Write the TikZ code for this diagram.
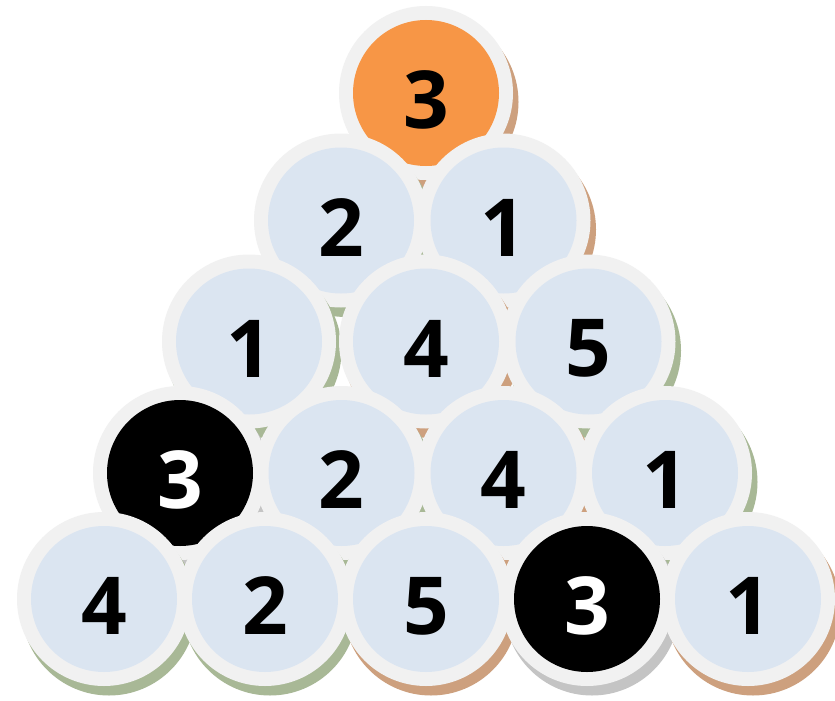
\documentclass[tikz,border=0pt]{standalone}
\usepackage{fontspec}
\newfontfamily\digitfont{Open Sans}
\definecolor{ringgray}{HTML}{F1F1F1}
\definecolor{coreblue}{HTML}{DBE5F1}
\definecolor{coreorange}{HTML}{F79646}
\definecolor{shtan}{RGB}{205,160,126}
\definecolor{sholive}{RGB}{168,184,150}
\definecolor{shgray}{RGB}{196,196,196}
\tikzset{
  shadowball/.style={circle, inner sep=0pt, outer sep=0pt, minimum size=175pt, draw=none},
  ringball/.style={circle, inner sep=0pt, outer sep=0pt, minimum size=174pt, fill=ringgray, draw=none},
  coreball/.style={circle, inner sep=0pt, outer sep=0pt, minimum size=146pt, draw=none},
  digitlabel/.style={inner sep=0pt, font=\digitfont\bfseries\fontsize{80}{80}\selectfont}
}
% name, x, y, core fill, shadow colour, text colour, digit
\newcommand\ball[7]{%
  \node[shadowball, fill=#5] (#1s) at (#2+5,#3+9) {};
  \node[ringball] (#1) at (#2,#3) {};
  \node[coreball, fill=#4] (#1c) at (#2,#3) {};
  \node[digitlabel, text=#6] (#1t) at (#2,#3+7) {#7};
}
\begin{document}
\begin{tikzpicture}[x=1pt,y=-1pt]
\useasboundingbox (0,0) rectangle (835,701);
\fill[white] (0,0) rectangle (835,701);
% row 1
\ball{b11}{426}{93}{coreorange}{shtan}{black}{3}
% row 2
\ball{b21}{341}{220.5}{coreblue}{sholive}{black}{2}
\ball{b22}{503.5}{220.5}{coreblue}{shtan}{black}{1}
% row 3
\ball{b31}{249}{341.5}{coreblue}{sholive}{black}{1}
\ball{b32}{426}{341.5}{coreblue}{shtan}{black}{4}
\ball{b33}{588.5}{341.5}{coreblue}{sholive}{black}{5}
% row 4
\ball{b41}{180}{473}{black}{shgray}{white}{3}
\ball{b42}{341.5}{473}{coreblue}{sholive}{black}{2}
\ball{b43}{503.5}{473}{coreblue}{shtan}{black}{4}
\ball{b44}{665}{473}{coreblue}{sholive}{black}{1}
% row 5
\ball{b51}{104}{599}{coreblue}{sholive}{black}{4}
\ball{b52}{265}{599}{coreblue}{sholive}{black}{2}
\ball{b53}{426}{599}{coreblue}{shtan}{black}{5}
\ball{b54}{587}{599}{black}{shgray}{white}{3}
\ball{b55}{748}{599}{coreblue}{shtan}{black}{1}
\end{tikzpicture}
\end{document}
